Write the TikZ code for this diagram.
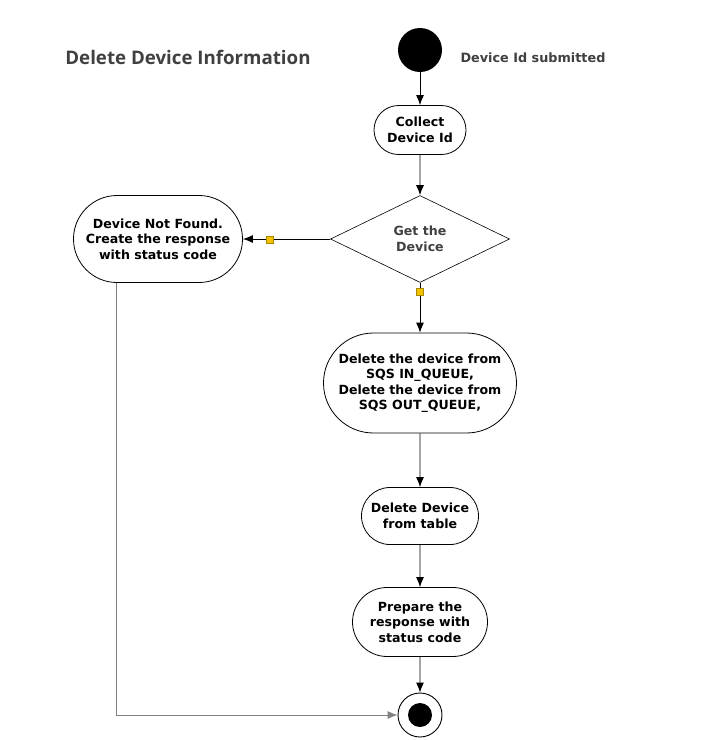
\documentclass[tikz,border=0pt]{standalone}
\usepackage{fontspec}
\setmainfont{DejaVu Sans}
\newfontfamily\titlefont{Open Sans}
\usepackage{tikz}
\usetikzlibrary{arrows.meta,shapes.geometric,shapes.misc,positioning}
\definecolor{txtgray}{HTML}{404040}
\definecolor{handle}{HTML}{F2C200}
\tikzstyle{edge}  =[-{Latex[length=10pt,width=8pt]}, line width=0.9pt]
\tikzstyle{action}=[rounded rectangle, draw, line width=0.8pt,
                    align=center, inner sep=2pt,
                    font=\bfseries\fontsize{12.6}{15.5}\selectfont]
\tikzstyle{handlebox}=[rectangle, fill=handle, draw=handle!70!black,
                    line width=0.3pt, minimum size=7pt, inner sep=0pt]

\begin{document}
\begin{tikzpicture}[x=1pt, y=-1pt]
    \useasboundingbox (0,0) rectangle (720,740);
    % title and start
    \node (title) at (188,57) {\titlefont\bfseries\fontsize{18.7}{21}\selectfont\color{txtgray}Delete Device Information};
    \node (start) [circle, fill=black, minimum size=44pt, inner sep=0pt] at (420,50) {};
    \node (startlbl) at (533,58) {\bfseries\fontsize{12.8}{15}\selectfont\color{txtgray}Device Id submitted};

    % activities
    \node (collect) [action, minimum width=96pt, minimum height=49pt] at (420,130) {Collect\\Device Id};
    \node (get) [diamond, draw, line width=0.6pt, aspect=2.06, minimum width=179pt, minimum height=87pt,
                 inner sep=0pt, align=center, text=txtgray, font=\bfseries\fontsize{12.6}{15.5}\selectfont]
                 at (420,239) {Get the\\Device};
    \node (notfound) [action, minimum width=173pt, minimum height=87pt] at (158,239)
          {Device Not Found.\\Create the response\\with status code};
    \node (queues) [action, minimum width=197pt, minimum height=100pt] at (420,383)
          {Delete the device from\\SQS IN\_QUEUE,\\Delete the device from\\SQS OUT\_QUEUE,};
    \node (table) [action, minimum width=121pt, minimum height=57pt] at (420,516) {Delete Device\\from table};
    \node (prepare) [action, minimum width=139pt, minimum height=69pt] at (420,622)
          {Prepare the\\response with\\status code};

    % end
    \node (finish) [circle, draw, line width=0.9pt, minimum size=44pt, inner sep=0pt] at (420,715) {};
    \node (finishdot) [circle, fill=black, minimum size=24pt, inner sep=0pt] at (finish) {};

    % connectors
    \draw[edge] (start) -- (collect);
    \draw[edge] (collect) -- (get.north);
    \draw[edge] (get.west) -- (notfound.east);
    \draw[edge] (get.south) -- (queues.north);
    \draw[edge] (queues) -- (table);
    \draw[edge] (table) -- (prepare);
    \draw[edge] (prepare) -- (finish);
    \coordinate (turn) at (116,715);
    \draw[edge, draw=gray] (turn |- notfound.south) -- (turn) -- (finish.west);

    % handles
    \node (h1) [handlebox] at (270,240) {};
    \node (h2) [handlebox] at (420,292) {};
\end{tikzpicture}
\end{document}
